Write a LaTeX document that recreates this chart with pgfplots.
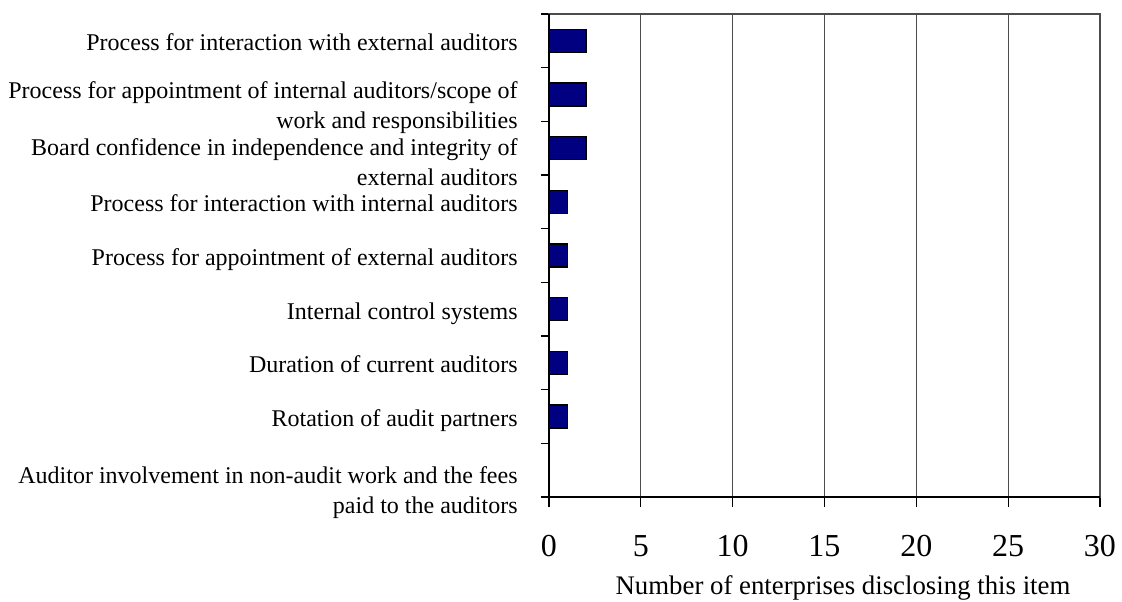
\documentclass[border=0pt]{standalone}
\usepackage{pgfplots}
\pgfplotsset{compat=1.18}
\usepackage{fontspec}
\setmainfont{Liberation Serif}
\definecolor{barblue}{RGB}{0,0,128}

% label helper: shifted, smashed right-aligned block
\newcommand{\lbl}[2]{\raisebox{-#1}[0pt][0pt]{\begin{tabular}{@{}r@{}}#2\end{tabular}}}

\begin{document}
\begin{tikzpicture}
\begin{axis}[
    xbar,
    scale only axis,
    width=275.5pt, height=241.5pt,
    xmin=0, xmax=30,
    ymin=-0.5, ymax=8.5,
    xtick={0,5,...,30},
    ytick={0,...,8},
    minor ytick={-0.5,0.5,...,8.5},
    yticklabels={
        {\lbl{14pt}{Auditor involvement in non-audit work and the fees\\paid to the auditors}},
        {\lbl{5pt}{Rotation of audit partners}},
        {\lbl{5pt}{Duration of current auditors}},
        {\lbl{5pt}{Internal control systems\ }},
        {\lbl{5pt}{Process for appointment of external auditors}},
        {\lbl{5pt}{Process for interaction with internal auditors}},
        {\lbl{11pt}{Board confidence in independence and integrity of\ \\external auditors\ }},
        {\lbl{9.25pt}{Process for appointment of internal auditors/scope of\\work and responsibilities}},
        {\lbl{5pt}{Process for interaction with external auditors\ }},
    },
    bar width=11.5pt,
    xmajorgrids=true,
    grid style={gray!60!black, line width=0.6pt},
    axis line style={draw=gray!60!black, line width=0.6pt},
    tick align=outside,
    xtick pos=bottom,
    ytick pos=left,
    major tick length=5pt,
    minor tick length=4pt,
    ytick style={draw=none},
    minor y tick style={draw=black, line width=0.6pt},
    xtick style={black, line width=0.6pt},
    /pgf/number format/assume math mode=true,
    xticklabel style={font=\fontsize{16}{19}\selectfont, anchor=center, yshift=-19.5pt},
    yticklabel style={font=\fontsize{12}{15}\selectfont, anchor=east, inner sep=0pt, xshift=-10.5pt},
    xlabel={Number of enterprises disclosing this item},
    xlabel style={font=\fontsize{13.4}{16}\selectfont, at={(axis description cs:0.5,0)}, anchor=base, yshift=-49pt, xshift=9.25pt},
    clip=false,
]
\addplot[fill=barblue, draw=black, line width=0.8pt] coordinates {
    (0,0) (1,1) (1,2) (1,3) (1,4) (1,5) (2,6) (2,7) (2,8)
};
\draw[black, line width=0.8pt] (rel axis cs:0,1) -- (rel axis cs:0,0) -- (rel axis cs:1,0);
\coordinate (tl) at (rel axis cs:0,1);
\end{axis}
\pgfresetboundingbox
\path ([shift={(-274.5pt,7pt)}]tl) rectangle ([shift={(286.5pt,-293.5pt)}]tl);
\end{tikzpicture}
\end{document}
